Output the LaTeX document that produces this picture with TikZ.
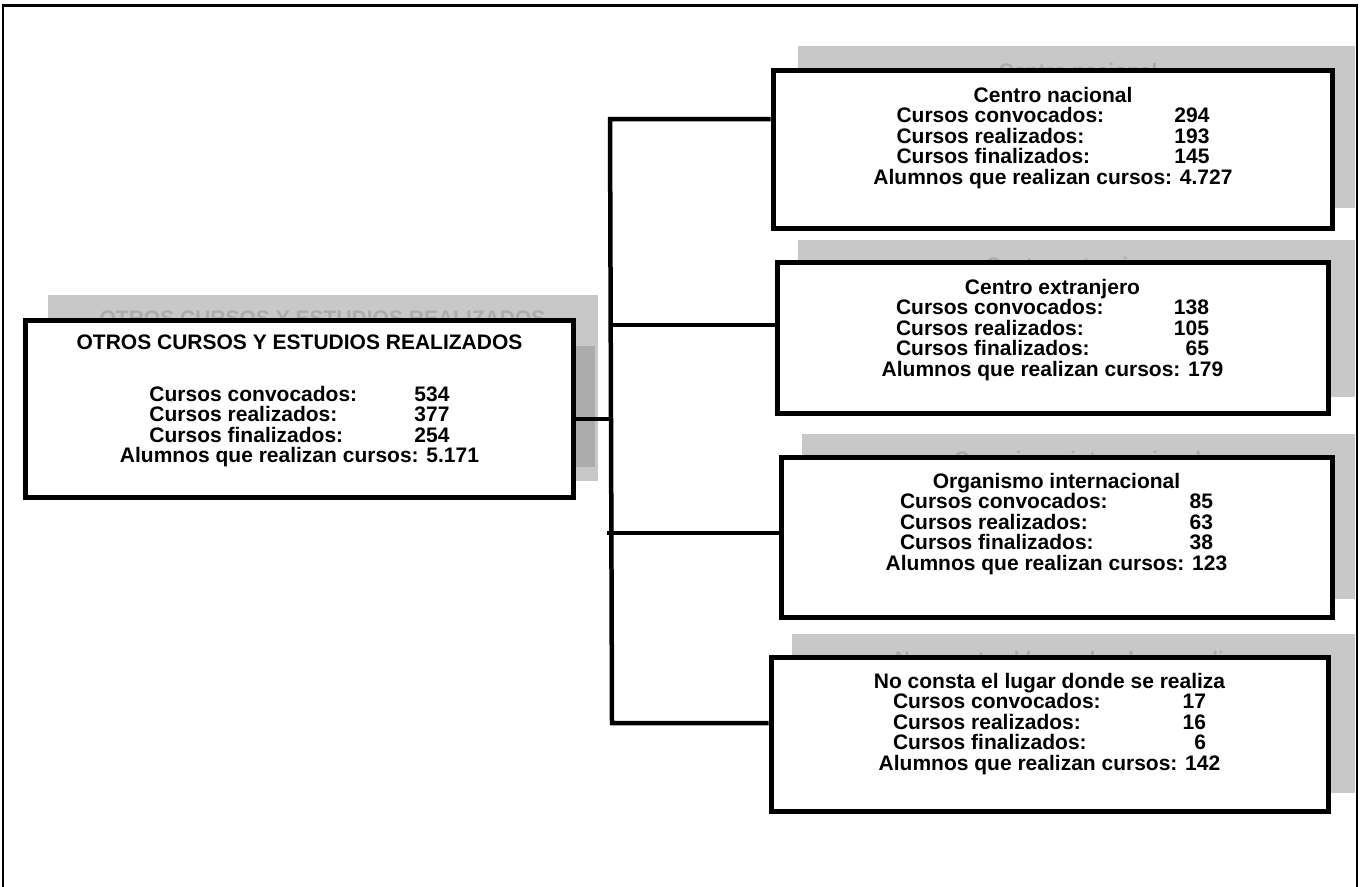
\documentclass[tikz,border=0pt]{standalone}
\usepackage{fontspec}
\setmainfont{Liberation Sans}
\definecolor{shad}{RGB}{200,200,200}
\definecolor{shaddark}{RGB}{172,172,172}
\definecolor{ghost}{RGB}{172,172,172}
\newcommand\rw[3][313bp]{\makebox[#1]{#2\hfill #3}}
\tikzset{
  boxst/.style={draw=black, line width=5bp, fill=white, inner sep=0pt},
  txt/.style={font=\fontsize{21bp}{20.5bp}\selectfont\bfseries, align=center, inner sep=0pt, anchor=north},
  ghostst/.style={txt, text=ghost},
  conn/.style={line width=4.5bp, line join=miter},
}
\begin{document}
\begin{tikzpicture}[x=1bp, y=-1bp]
\useasboundingbox (0,0) rectangle (1360,886);
% outer frame
\draw[line width=2.5bp] (3,887) -- (3,5.5) -- (1357,5.5) -- (1357,887);

% shadows
\fill[shad] (48,295) rectangle (598,481);
\fill[shaddark] (560,346) rectangle (595,467);
\fill[shad] (798,46) rectangle (1355,208);
\fill[shad] (798,240) rectangle (1355,397);
\fill[shad] (802,434) rectangle (1355,599);
\fill[shad] (792,634) rectangle (1355,793);

% ghost titles in the shadows
\node[ghostst] (g0) at (322.5,311) {OTROS CURSOS Y ESTUDIOS REALIZADOS};
\node[ghostst] (g1) at (1078,63) {Centro nacional};
\node[ghostst] (g2) at (1073.5,257) {Centro extranjero};
\node[ghostst] (g3) at (1077.5,451) {Organismo internacional};
\node[ghostst] (g4) at (1070.5,651) {No consta el lugar donde se realiza};

% boxes
\node[boxst, minimum width=547bp, minimum height=177bp] (b0) at (299.5,408.5) {};
\node[boxst, minimum width=559bp, minimum height=158bp] (b1) at (1052.5,149) {};
\node[boxst, minimum width=551bp, minimum height=151bp] (b2) at (1052.5,337.5) {};
\node[boxst, minimum width=551bp, minimum height=160bp] (b3) at (1056.5,537) {};
\node[boxst, minimum width=557bp, minimum height=154bp] (b4) at (1049.5,734) {};

% texts
\node[txt] (t0) at (299.5,335) {OTROS CURSOS Y ESTUDIOS REALIZADOS\\[31bp]
  \rw[300bp]{Cursos convocados:}{534}\\
  \rw[300bp]{Cursos realizados:}{377}\\
  \rw[300bp]{Cursos finalizados:}{254}\\
  Alumnos que realizan cursos: 5.171};
\node[txt] (t1) at (1053,87) {Centro nacional\\
  \rw{Cursos convocados:}{294}\\
  \rw{Cursos realizados:}{193}\\
  \rw{Cursos finalizados:}{145}\\
  Alumnos que realizan cursos: 4.727};
\node[txt] (t2) at (1052.5,279) {Centro extranjero\\
  \rw{Cursos convocados:}{138}\\
  \rw{Cursos realizados:}{105}\\
  \rw{Cursos finalizados:}{65}\\
  Alumnos que realizan cursos: 179};
\node[txt] (t3) at (1056.5,473) {Organismo internacional\\
  \rw{Cursos convocados:}{85}\\
  \rw{Cursos realizados:}{63}\\
  \rw{Cursos finalizados:}{38}\\
  Alumnos que realizan cursos: 123};
\node[txt] (t4) at (1049.5,673) {No consta el lugar donde se realiza\\
  \rw{Cursos convocados:}{17}\\
  \rw{Cursos realizados:}{16}\\
  \rw{Cursos finalizados:}{6}\\
  Alumnos que realizan cursos: 142};

% connectors
\coordinate (j) at (611,419);
\coordinate (jt) at (610,119);
\coordinate (jb) at (612,723);
\coordinate (j2) at (612,325);
\coordinate (j3) at (607,533);
\draw[conn] (b0.east |- j) -- (j);
\draw[conn] (b1.west |- jt) -- (jt) -- (jb) -- (b4.west |- jb);
\draw[conn] (j2) -- (b2.west |- j2);
\draw[conn] (j3) -- (b3.west |- j3);
\end{tikzpicture}
\end{document}
